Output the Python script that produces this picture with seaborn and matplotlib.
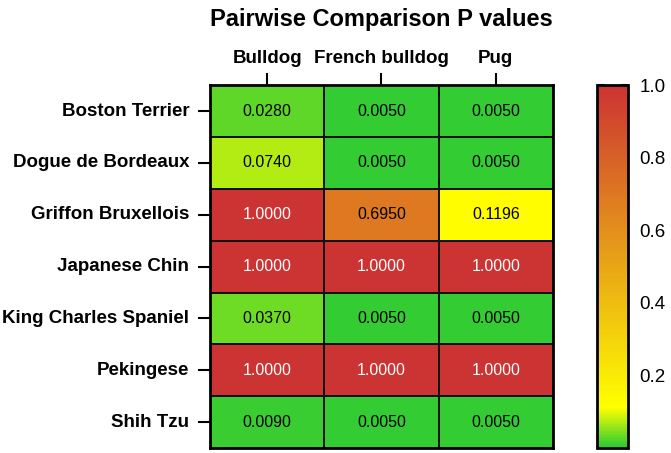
import numpy as np
import pandas as pd
import matplotlib
matplotlib.use("Agg")
import matplotlib.pyplot as plt
import seaborn as sns
from matplotlib.colors import LinearSegmentedColormap

rows = ["Boston Terrier", "Dogue de Bordeaux", "Griffon Bruxellois", "Japanese Chin",
        "King Charles Spaniel", "Pekingese", "Shih Tzu"]
cols = ["Bulldog", "French bulldog", "Pug"]
bulldog = [0.0280, 0.0740, 1.0000, 1.0000, 0.0370, 1.0000, 0.0090]
french_bulldog = [0.0050, 0.0050, 0.6950, 1.0000, 0.0050, 1.0000, 0.0050]
pug = [0.0050, 0.0050, 0.1196, 1.0000, 0.0050, 1.0000, 0.0050]
cbar_ticks = [0.2, 0.4, 0.6, 0.8, 1.0]

df = pd.DataFrame({"Bulldog": bulldog, "French bulldog": french_bulldog, "Pug": pug},
                  index=rows)[cols]

sns.set_theme(style="white")
plt.rcParams["font.family"] = ["Liberation Sans", "DejaVu Sans"]
plt.rcParams["text.color"] = "black"
plt.rcParams["xtick.color"] = "black"
plt.rcParams["ytick.color"] = "black"

cmap = LinearSegmentedColormap.from_list(
    "pv", [(0.0, "#33cc33"), (0.005, "#33cc33"), (0.11, "#ffff00"), (1.0, "#cc3333")])

fig = plt.figure(figsize=(6.71, 4.53), dpi=100)
ax = fig.add_axes([0.313, 0.011, 0.511, 0.801])
cax = fig.add_axes([0.890, 0.011, 0.046, 0.801])

sns.heatmap(df, ax=ax, cbar_ax=cax, cmap=cmap, vmin=0, vmax=1,
            annot=True, fmt=".4f", annot_kws={"fontsize": 11.5},
            linewidths=1.2, linecolor="#111111",
            cbar_kws={"ticks": cbar_ticks})

for t in ax.texts:
    v = float(t.get_text())
    t.set_color("white" if v >= 0.99 else "black")

ax.xaxis.tick_top()
ax.xaxis.set_label_position("top")
ax.set_xlabel("")
ax.set_ylabel("")
ax.tick_params(axis="x", top=True, bottom=False, length=9, width=1.5, color="black",
               labelsize=13.5, pad=4, direction="out", labelcolor="black")
ax.tick_params(axis="y", left=True, length=9, width=1.5, color="black",
               labelsize=13.5, pad=6, direction="out", labelcolor="black")
for lab in ax.get_xticklabels():
    lab.set_fontweight("bold")
    lab.set_rotation(0)
for lab in ax.get_yticklabels():
    lab.set_fontweight("bold")
    lab.set_rotation(0)
for s in ax.spines.values():
    s.set_visible(True)
    s.set_linewidth(2)
    s.set_color("black")

cbar = ax.collections[0].colorbar
cbar.outline.set_visible(True)
cbar.outline.set_linewidth(2)
cbar.outline.set_edgecolor("black")
cax.tick_params(axis="y", which="both", direction="in", left=True, right=True,
                length=5, width=1.5, color="black", labelsize=13.5, pad=8,
                labelcolor="black")
cax.set_yticklabels(["0.2", "0.4", "0.6", "0.8", "1.0"])

fig.text(0.569, 0.958, "Pairwise Comparison P values", ha="center", va="center",
         fontsize=17, fontweight="bold", color="black")

fig.savefig("out.png", dpi=100)
